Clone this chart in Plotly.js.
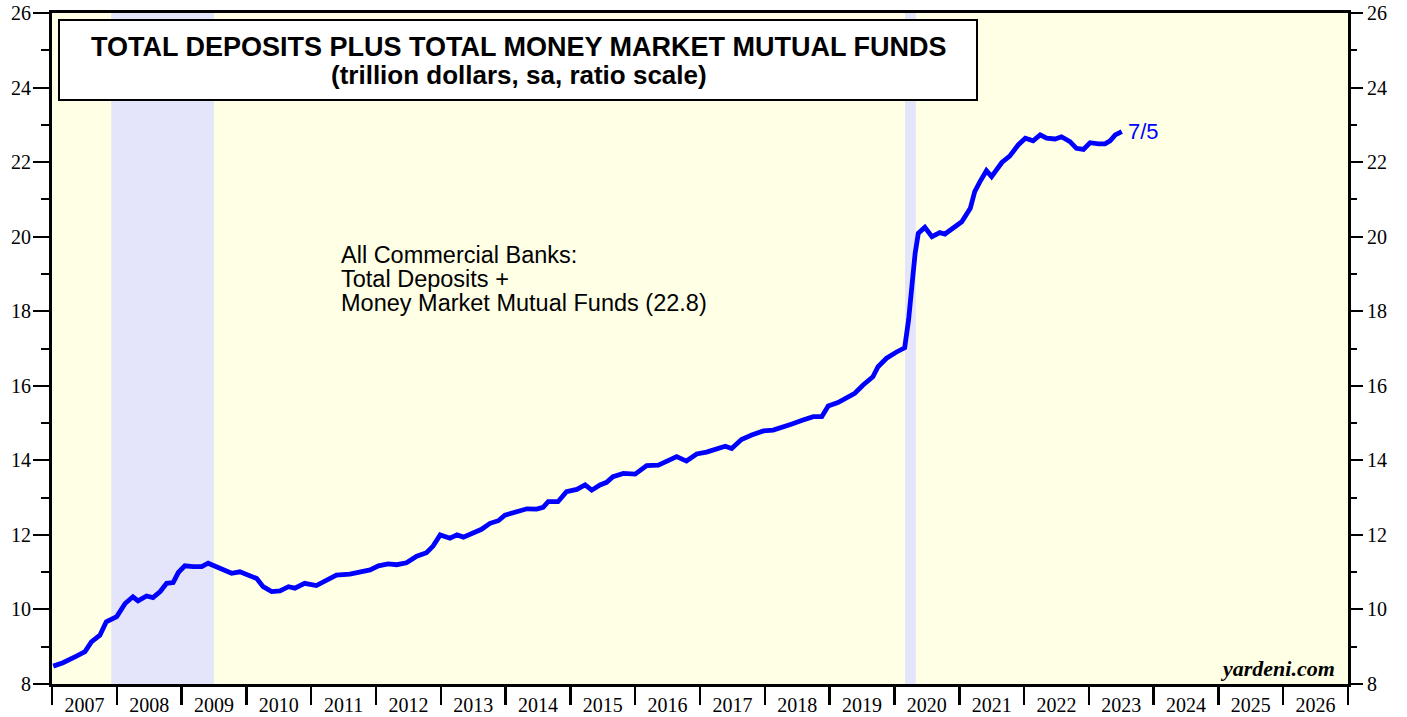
<!DOCTYPE html>
<html>
<head>
<meta charset="utf-8">
<script src="https://cdn.plot.ly/plotly-3.0.1.min.js"></script>
<style>
  html, body { margin: 0; padding: 0; background: #ffffff; }
  #chart { width: 1407px; height: 717px; }
</style>
</head>
<body>
<div id="chart"></div>
<script>
// ---- Data ----
// Decimal-year positions of readings
const decimalYears = [
  2007.02, 2007.17, 2007.38, 2007.51, 2007.61, 2007.74, 2007.84, 2008.00, 2008.13, 2008.25,
  2008.33, 2008.46, 2008.56, 2008.67, 2008.77, 2008.87, 2008.95, 2009.05, 2009.18, 2009.31,
  2009.41, 2009.52, 2009.64, 2009.77, 2009.90, 2010.06, 2010.16, 2010.26, 2010.39, 2010.52,
  2010.65, 2010.75, 2010.90, 2011.08, 2011.24, 2011.39, 2011.60, 2011.78, 2011.91, 2012.04,
  2012.19, 2012.32, 2012.47, 2012.63, 2012.78, 2012.88, 2012.99, 2013.14, 2013.25, 2013.35,
  2013.50, 2013.63, 2013.76, 2013.89, 2013.99, 2014.14, 2014.33, 2014.48, 2014.58, 2014.66,
  2014.81, 2014.94, 2015.10, 2015.23, 2015.33, 2015.46, 2015.56, 2015.66, 2015.82, 2016.00,
  2016.18, 2016.36, 2016.49, 2016.64, 2016.79, 2016.95, 2017.10, 2017.23, 2017.39, 2017.49,
  2017.64, 2017.80, 2017.98, 2018.13, 2018.23, 2018.41, 2018.59, 2018.75, 2018.88, 2018.98,
  2019.13, 2019.26, 2019.39, 2019.52, 2019.67, 2019.75, 2019.88, 2020.03, 2020.16, 2020.22,
  2020.27, 2020.32, 2020.37, 2020.47, 2020.58, 2020.70, 2020.78, 2020.91, 2021.04, 2021.17,
  2021.24, 2021.32, 2021.42, 2021.50, 2021.66, 2021.78, 2021.91, 2022.02, 2022.14, 2022.25,
  2022.35, 2022.48, 2022.58, 2022.71, 2022.81, 2022.92, 2023.02, 2023.15, 2023.25, 2023.33,
  2023.41, 2023.51
];
// Total deposits + money market mutual funds, trillion dollars
const depositsPlusMMF = [
  8.48, 8.57, 8.75, 8.87, 9.13, 9.31, 9.67, 9.81, 10.16, 10.34,
  10.23, 10.36, 10.32, 10.48, 10.70, 10.72, 10.99, 11.17, 11.15, 11.15,
  11.24, 11.15, 11.08, 10.97, 11.01, 10.92, 10.83, 10.61, 10.48, 10.50,
  10.61, 10.57, 10.70, 10.64, 10.77, 10.92, 10.95, 11.01, 11.06, 11.17,
  11.22, 11.20, 11.25, 11.43, 11.52, 11.70, 12.00, 11.91, 12.00, 11.94,
  12.06, 12.15, 12.31, 12.38, 12.53, 12.62, 12.70, 12.69, 12.74, 12.89,
  12.89, 13.16, 13.22, 13.34, 13.20, 13.34, 13.41, 13.56, 13.65, 13.63,
  13.86, 13.87, 13.98, 14.10, 13.98, 14.17, 14.22, 14.30, 14.38, 14.32,
  14.56, 14.68, 14.79, 14.81, 14.86, 14.97, 15.08, 15.17, 15.17, 15.46,
  15.55, 15.66, 15.80, 16.02, 16.24, 16.51, 16.74, 16.90, 17.02, 17.76,
  18.66, 19.55, 20.09, 20.25, 20.00, 20.11, 20.07, 20.25, 20.40, 20.76,
  21.21, 21.47, 21.77, 21.61, 21.99, 22.16, 22.46, 22.64, 22.57, 22.73,
  22.64, 22.62, 22.68, 22.55, 22.37, 22.34, 22.52, 22.49, 22.49, 22.57,
  22.73, 22.82
];
// Recession periods (shaded)
const recessionStarts = ["2007-12-01", "2020-03-01"];
const recessionEnds   = ["2009-07-01", "2020-05-01"];
// Axis ticks
const yTickValues = [8, 10, 12, 14, 16, 18, 20, 22, 24, 26];
const lastLabel = "7/5";
const lastValueText = "22.8";
const titleLines = ["TOTAL DEPOSITS PLUS TOTAL MONEY MARKET MUTUAL FUNDS", "(trillion dollars, sa, ratio scale)"];
const seriesLabelLines = ["All Commercial Banks:", "Total Deposits +", "Money Market Mutual Funds (" + lastValueText + ")"];

// ---- Helpers ----
function decToDate(d) {
  const y = Math.floor(d);
  const s = Date.UTC(y, 0, 1), e = Date.UTC(y + 1, 0, 1);
  return new Date(s + (d - y) * (e - s)).toISOString().slice(0, 10);
}
const dates = decimalYears.map(decToDate);

const serif = "Liberation Serif, Times New Roman, serif";
const sans = "Liberation Sans, Arial, sans-serif";

const trace = {
  x: dates,
  y: depositsPlusMMF,
  type: "scatter",
  mode: "lines",
  line: { color: "#0000ff", width: 4.8 },
  hoverinfo: "x+y",
  showlegend: false
};
// same series attached to the right-hand axis (transparent) so that axis is drawn
const traceRight = {
  x: dates,
  y: depositsPlusMMF,
  yaxis: "y2",
  type: "scatter",
  mode: "lines",
  line: { color: "rgba(0,0,0,0)", width: 0 },
  hoverinfo: "skip",
  showlegend: false
};

const shapes = recessionStarts.map((s, i) => ({
  type: "rect", xref: "x", yref: "paper",
  x0: s, x1: recessionEnds[i], y0: 0, y1: 1,
  fillcolor: "#e4e4fa", line: { width: 0 }, layer: "below"
}));
// title box
shapes.push({
  type: "rect", xref: "paper", yref: "paper",
  x0: (59 - 52) / 1296, x1: (977 - 52) / 1296,
  y0: (684 - 100) / 671, y1: (684 - 20) / 671,
  fillcolor: "#ffffff", line: { color: "#000000", width: 2 }, layer: "above"
});

const yAxisCommon = {
  range: [8, 26],
  tickvals: yTickValues,
  ticks: "outside",
  tickwidth: 2,
  tickcolor: "#000",
  showgrid: false,
  zeroline: false,
  tickfont: { family: serif, size: 20, color: "#000" },
  minor: { dtick: 1, tick0: 0, ticks: "outside", ticklen: 8, tickwidth: 2, tickcolor: "#000", showgrid: false }
};

const annotations = [
  {
    xref: "paper", yref: "paper",
    x: (519 - 52) / 1296, y: (684 - 47) / 671,
    text: "<b>" + titleLines[0] + "</b>",
    showarrow: false, xanchor: "center", yanchor: "middle",
    font: { family: sans, size: 27, color: "#000" }
  },
  {
    xref: "paper", yref: "paper",
    x: (519 - 52) / 1296, y: (684 - 75) / 671,
    text: "<b>" + titleLines[1] + "</b>",
    showarrow: false, xanchor: "center", yanchor: "middle",
    font: { family: sans, size: 26, color: "#000" }
  },
  {
    xref: "x", yref: "y",
    x: dates[dates.length - 1], y: depositsPlusMMF[depositsPlusMMF.length - 1],
    text: lastLabel, showarrow: false, xanchor: "left", yanchor: "middle",
    xshift: 4, yshift: 0,
    font: { family: sans, size: 22, color: "#0000ff" }
  },
  {
    xref: "paper", yref: "paper",
    x: (1337 - 52) / 1296, y: (684 - 668) / 671,
    text: "<b><i>yardeni.com</i></b>",
    showarrow: false, xanchor: "right", yanchor: "middle",
    font: { family: serif, size: 22, color: "#000" }
  }
];
seriesLabelLines.forEach((t, i) => {
  annotations.push({
    xref: "paper", yref: "paper",
    x: (339 - 52) / 1296, y: (684 - (255 + 24 * i)) / 671,
    text: t, showarrow: false, xanchor: "left", yanchor: "middle", align: "left",
    font: { family: sans, size: 23.5, color: "#000" }
  });
});

const layout = {
  width: 1407,
  height: 717,
  margin: { l: 52, r: 59, t: 13, b: 33, pad: 0 },
  paper_bgcolor: "#ffffff",
  plot_bgcolor: "#ffffe6",
  showlegend: false,
  xaxis: {
    type: "date",
    range: ["2007-01-01", "2027-01-01"],
    tick0: "2007-01-01",
    dtick: "M12",
    tickformat: "%Y",
    ticklabelmode: "period",
    ticks: "outside",
    ticklen: 18,
    tickwidth: 2.5,
    tickcolor: "#000",
    showline: true,
    linecolor: "#000",
    linewidth: 3,
    mirror: true,
    showgrid: false,
    zeroline: false,
    tickfont: { family: serif, size: 20, color: "#000" },
    ticklabelstandoff: -17
  },
  yaxis: Object.assign({}, yAxisCommon, {
    ticklen: 16,
    showline: true,
    linecolor: "#000",
    linewidth: 3,
    mirror: true,
    ticklabelstandoff: -2
  }),
  yaxis2: Object.assign({}, yAxisCommon, {
    overlaying: "y",
    side: "right",
    anchor: "x",
    ticklen: 14,
    showline: false
  }),
  shapes: shapes,
  annotations: annotations
};

Plotly.newPlot("chart", [traceRight, trace], layout, { displayModeBar: false, staticPlot: true });
</script>
</body>
</html>
